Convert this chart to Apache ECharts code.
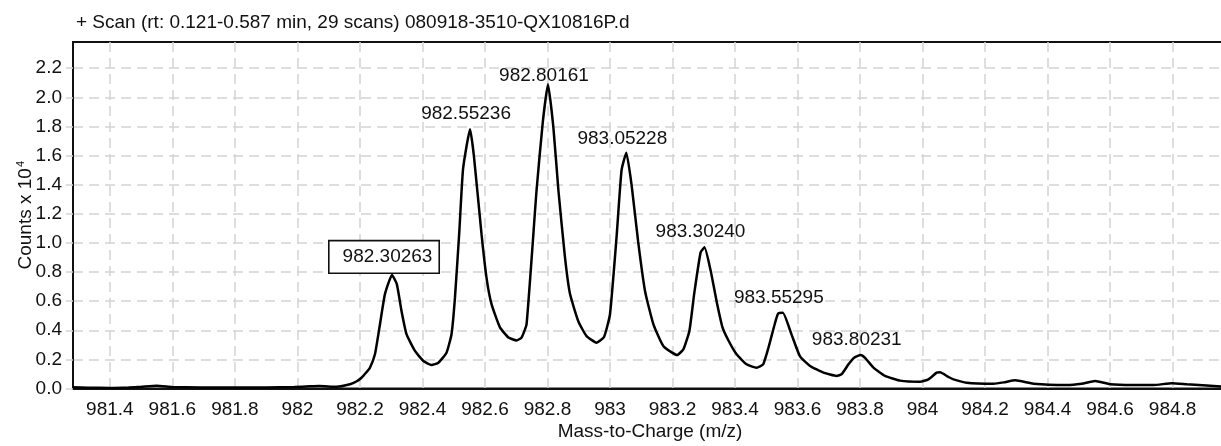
<!DOCTYPE html>
<html>
<head>
<meta charset="utf-8">
<script src="https://cdn.jsdelivr.net/npm/echarts@6/dist/echarts.min.js"></script>
<style>
  html, body { margin: 0; padding: 0; background: #fff; }
  #chart { width: 1221px; height: 446px; }
</style>
</head>
<body>
<div id="chart"></div>
<script>
// Profile spectrum (m/z, counts in units of 10^4), apexes listed separately below
const profileMz = [
  981.282, 981.33, 981.40, 981.46, 981.50, 981.55, 981.60, 981.69, 981.80, 981.90,
  981.99, 982.04, 982.07, 982.125, 982.168, 982.19, 982.205, 982.22, 982.232, 982.248,
  982.264, 982.28, 982.318, 982.333, 982.349, 982.376, 982.403, 982.429, 982.451, 982.477,
  982.493, 982.504, 982.518, 982.53, 982.565, 982.589, 982.605, 982.621, 982.648, 982.675,
  982.701, 982.717, 982.733, 982.765, 982.785, 982.819, 982.835, 982.856, 982.872, 982.899,
  982.925, 982.957, 982.981, 983.0, 983.021, 983.037, 983.069, 983.09, 983.112, 983.139,
  983.171, 983.215, 983.235, 983.254, 983.27, 983.29, 983.322, 983.341, 983.36, 983.379,
  983.405, 983.437, 983.469, 983.49, 983.507, 983.528, 983.538, 983.581, 983.608, 983.64,
  983.683, 983.725, 983.741, 983.763, 983.78, 983.816, 983.843, 983.88, 983.928, 983.992,
  984.019, 984.045, 984.056, 984.083, 984.099, 984.141, 984.227, 984.26, 984.296, 984.355,
  984.461, 984.509, 984.552, 984.60, 984.675, 984.739, 984.798, 984.846, 984.974
];
const profileCounts = [
  0.008, 0.006, 0.004, 0.007, 0.012, 0.019, 0.011, 0.007, 0.007, 0.007,
  0.010, 0.015, 0.017, 0.012, 0.029, 0.050, 0.074, 0.110, 0.143, 0.235,
  0.440, 0.648, 0.717, 0.533, 0.373, 0.258, 0.189, 0.162, 0.177, 0.246,
  0.373, 0.624, 1.080, 1.510, 1.590, 1.060, 0.760, 0.580, 0.420, 0.350,
  0.330, 0.350, 0.440, 1.360, 1.830, 1.790, 1.360, 0.900, 0.650, 0.460,
  0.360, 0.315, 0.354, 0.510, 1.040, 1.500, 1.400, 1.010, 0.670, 0.440,
  0.290, 0.230, 0.270, 0.395, 0.660, 0.935, 0.810, 0.600, 0.420, 0.330,
  0.235, 0.166, 0.143, 0.166, 0.280, 0.450, 0.515, 0.370, 0.220, 0.155,
  0.109, 0.086, 0.098, 0.166, 0.210, 0.210, 0.143, 0.086, 0.054, 0.046,
  0.063, 0.109, 0.112, 0.079, 0.063, 0.040, 0.033, 0.042, 0.056, 0.033,
  0.024, 0.033, 0.052, 0.029, 0.024, 0.024, 0.036, 0.029, 0.012
];

// Labelled apexes
const peakMz = [982.30263, 982.55236, 982.80161, 983.05228, 983.30240, 983.55295, 983.80231];
const peakCounts = [0.78, 1.78, 2.09, 1.62, 0.97, 0.52, 0.23];

// Axis ticks
const xTicks = [981.4, 981.6, 981.8, 982.0, 982.2, 982.4, 982.6, 982.8, 983.0,
                983.2, 983.4, 983.6, 983.8, 984.0, 984.2, 984.4, 984.6, 984.8];
const xTickLabels = ['981.4', '981.6', '981.8', '982', '982.2', '982.4', '982.6', '982.8', '983',
                     '983.2', '983.4', '983.6', '983.8', '984', '984.2', '984.4', '984.6', '984.8'];
const yTicks = [0, 0.2, 0.4, 0.6, 0.8, 1.0, 1.2, 1.4, 1.6, 1.8, 2.0, 2.2];
const yTickLabels = ['0.0', '0.2', '0.4', '0.6', '0.8', '1.0', '1.2', '1.4', '1.6', '1.8', '2.0', '2.2'];

const FONT = 'Liberation Sans, Arial, Helvetica, sans-serif';

// merge profile and apex points into one ordered trace
const trace = profileMz.map((m, i) => [m, profileCounts[i]])
  .concat(peakMz.map((m, i) => [m, peakCounts[i]]))
  .sort((a, b) => a[0] - b[0]);

function labelFor(value, list, labels) {
  let best = 0;
  for (let i = 1; i < list.length; i++) {
    if (Math.abs(list[i] - value) < Math.abs(list[best] - value)) best = i;
  }
  return labels[best];
}

const gridColor = '#d4d4d4';
const gridDash = [10, 6];

const peakData = peakMz.map((m, i) => {
  const item = { value: [m, peakCounts[i]] };
  if (i === 0) {
    item.label = {
      distance: 1.5,
      offset: [-8, 0],
      borderColor: '#111',
      borderWidth: 1.6,
      padding: [6, 6, 6, 13],
      backgroundColor: '#fff'
    };
  } else if (i === 2) {
    item.label = { distance: -2 };
  } else if (i === 3) {
    item.label = { distance: 3 };
  }
  return item;
});

const chart = echarts.init(document.getElementById('chart'), null, { renderer: 'canvas' });
chart.setOption({
  animation: false,
  backgroundColor: '#fff',
  title: {
    text: '+ Scan (rt: 0.121-0.587 min, 29 scans) 080918-3510-QX10816P.d',
    left: 76,
    top: 13,
    padding: 0,
    textStyle: { fontFamily: FONT, fontSize: 19, fontWeight: 'normal', color: '#111' }
  },
  grid: {
    left: 73,
    right: -6,
    top: 42,
    bottom: 57.5,
    outerBoundsMode: 'none',
    containLabel: false,
    show: true,
    borderColor: '#111',
    borderWidth: 2,
    backgroundColor: 'transparent'
  },
  xAxis: {
    type: 'value',
    min: 981.282,
    max: 984.974,
    name: 'Mass-to-Charge (m/z)',
    nameLocation: 'middle',
    nameGap: 34,
    nameMoveOverlap: false,
    nameTextStyle: { fontFamily: FONT, fontSize: 19, color: '#111' },
    axisLine: { show: true, lineStyle: { color: '#111', width: 2 } },
    axisTick: { show: false, customValues: xTicks },
    axisLabel: {
      customValues: xTicks,
      margin: 12,
      fontFamily: FONT,
      fontSize: 19,
      color: '#111',
      formatter: v => labelFor(v, xTicks, xTickLabels)
    },
    splitLine: { show: true, lineStyle: { color: gridColor, width: 1.5, type: gridDash } }
  },
  yAxis: {
    type: 'value',
    min: 0,
    max: 2.38,
    name: '{a|Counts x 10}{b|4}',
    nameLocation: 'middle',
    nameGap: 36,
    nameMoveOverlap: false,
    nameTextStyle: {
      rich: {
        a: { fontFamily: FONT, fontSize: 19, color: '#111', lineHeight: 22 },
        b: { fontFamily: FONT, fontSize: 11, color: '#111', verticalAlign: 'top', lineHeight: 22, padding: [0, 0, 10, 1] }
      }
    },
    axisLine: { show: true, lineStyle: { color: '#111', width: 2 } },
    axisTick: { show: true, customValues: yTicks, length: 7, lineStyle: { color: gridColor, width: 1.5 } },
    axisLabel: {
      customValues: yTicks,
      margin: 11,
      fontFamily: FONT,
      fontSize: 19,
      color: '#111',
      formatter: v => labelFor(v, yTicks, yTickLabels)
    },
    splitLine: { show: true, lineStyle: { color: gridColor, width: 1.5, type: gridDash } }
  },
  series: [
    {
      name: 'spectrum',
      type: 'line',
      data: trace,
      showSymbol: false,
      smooth: 0.15,
      lineStyle: { color: '#000', width: 2.5 },
      z: 3
    },
    {
      name: 'peaks',
      type: 'scatter',
      data: peakData,
      symbolSize: 2,
      itemStyle: { color: 'rgba(0,0,0,0)', opacity: 1 },
      label: {
        show: true,
        position: 'top',
        distance: 5,
        offset: [-4, 0],
        fontFamily: FONT,
        fontSize: 19,
        lineHeight: 19,
        color: '#111',
        formatter: p => p.value[0].toFixed(5)
      },
      z: 4
    }
  ]
});
</script>
</body>
</html>
